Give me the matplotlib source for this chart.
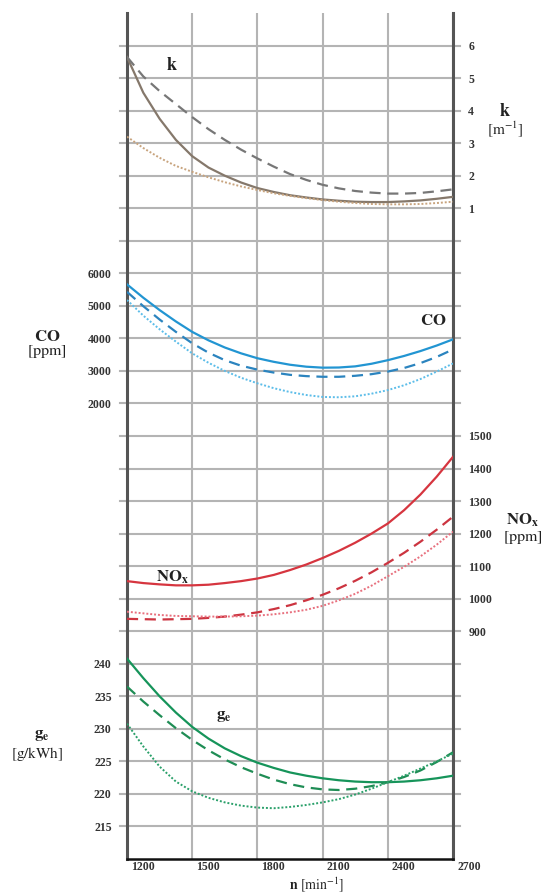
import matplotlib
matplotlib.use('Agg')
from matplotlib import pyplot
from matplotlib.transforms import ScaledTranslation

# engine speed [min^-1]
rpm = [1200, 1275, 1350, 1425, 1500, 1575, 1650, 1725, 1800, 1875, 1950,
       2025, 2100, 2175, 2250, 2325, 2400, 2475, 2550, 2625, 2700]

# smokiness k [m^-1]
k_solid = [5.65, 4.55, 3.75, 3.10, 2.60, 2.25, 2.00, 1.79, 1.62, 1.50, 1.40,
           1.33, 1.27, 1.23, 1.20, 1.19, 1.19, 1.21, 1.24, 1.29, 1.35]
k_dash = [5.65, 5.05, 4.60, 4.20, 3.80, 3.43, 3.10, 2.80, 2.53, 2.28, 2.05,
          1.87, 1.72, 1.61, 1.53, 1.48, 1.45, 1.45, 1.47, 1.52, 1.58]
k_dot = [3.20, 2.85, 2.55, 2.30, 2.12, 1.95, 1.80, 1.67, 1.56, 1.46, 1.38,
         1.31, 1.25, 1.20, 1.16, 1.13, 1.12, 1.12, 1.13, 1.16, 1.20]

# CO [ppm]
co_solid = [5660, 5250, 4870, 4520, 4200, 3940, 3720, 3540, 3390, 3280, 3190,
            3130, 3100, 3105, 3140, 3220, 3330, 3460, 3610, 3780, 3970]
co_dash = [5430, 4990, 4580, 4200, 3850, 3560, 3330, 3160, 3040, 2950, 2880,
           2840, 2820, 2820, 2850, 2900, 2980, 3090, 3240, 3430, 3660]
co_dot = [5180, 4700, 4280, 3900, 3540, 3250, 3000, 2790, 2620, 2470, 2350,
          2260, 2200, 2190, 2220, 2300, 2410, 2560, 2750, 2980, 3230]

# NOx [ppm]
nox_solid = [1054, 1048, 1044, 1041, 1041, 1043, 1048, 1054, 1062, 1073, 1088,
             1105, 1125, 1147, 1172, 1200, 1231, 1272, 1320, 1375, 1436]
nox_dash = [938, 937, 936, 937, 938, 941, 945, 951, 958, 968, 980,
            995, 1012, 1032, 1055, 1081, 1110, 1141, 1175, 1212, 1252]
nox_dot = [960, 955, 950, 947, 946, 945, 945, 946, 948, 952, 958,
           966, 978, 995, 1015, 1040, 1069, 1098, 1130, 1166, 1206]

# specific fuel consumption ge [g/kWh]
ge_solid = [240.8, 237.8, 235.0, 232.5, 230.3, 228.5, 227.0, 225.8, 224.8, 224.0, 223.3,
            222.8, 222.4, 222.1, 221.9, 221.8, 221.8, 221.9, 222.1, 222.4, 222.8]
ge_dash = [236.5, 234.2, 232.1, 230.1, 228.3, 226.7, 225.3, 224.1, 223.1, 222.2, 221.5,
           221.0, 220.7, 220.6, 220.8, 221.2, 221.8, 222.6, 223.6, 224.9, 226.4]
ge_dot = [230.8, 227.3, 224.2, 221.9, 220.4, 219.4, 218.7, 218.2, 217.9, 217.8, 218.0,
          218.3, 218.7, 219.2, 219.9, 220.8, 221.8, 222.8, 223.9, 225.0, 226.2]

x_ticks = [1200, 1500, 1800, 2100, 2400, 2700]
k_ticks = [1, 2, 3, 4, 5, 6]
co_ticks = [2000, 3000, 4000, 5000, 6000]
nox_ticks = [900, 1000, 1100, 1200, 1300, 1400, 1500]
ge_ticks = [215, 220, 225, 230, 235, 240]

W, H = 549, 894
RECT = [127 / W, 35 / H, 326 / W, 846 / H]

pyplot.rcParams['font.family'] = 'Liberation Serif'
pyplot.rcParams['mathtext.fontset'] = 'stix'


def _overlay(fig, ylim, ticks, side):
    ax = fig.add_axes(RECT)
    ax.patch.set_visible(False)
    for s in ax.spines.values():
        s.set_visible(False)
    ax.set_xlim(1200, 2700)
    ax.set_xticks([])
    ax.set_ylim(*ylim)
    ax.set_yticks(ticks)
    ax.set_yticklabels([str(t) for t in ticks], fontsize=8.5, fontweight='bold', color='#333333')
    if side == 'right':
        ax.yaxis.tick_right()
        ax.tick_params(axis='y', right=True, left=False, length=0, pad=11)
    else:
        ax.tick_params(axis='y', left=True, right=False, length=0, pad=11)
    return ax


def _curves(ax, solid, dash, dot, c_solid, c_dash, c_dot):
    ax.plot(rpm, solid, color=c_solid, lw=1.6)
    ax.plot(rpm, dash, color=c_dash, lw=1.6, linestyle=(0, (5, 3)))
    ax.plot(rpm, dot, color=c_dot, lw=1.4, linestyle=(0, (1, 1)))


def _ftext(x, y, s, **kw):
    pyplot.figtext(x / W, 1 - y / H, s, ha='center', va='center', color='#222222', **kw)


fig = pyplot.figure(figsize=(W / 100, H / 100), dpi=100)

# base grid: 26 rows of equal height
base = fig.add_axes(RECT)
base.set_xlim(1200, 2700)
base.set_ylim(0, 26)
base.set_yticks([])
base.set_xticks(x_ticks)
base.set_xticklabels([str(t) for t in x_ticks], fontsize=8.5, fontweight='bold', color='#333333')
base.tick_params(axis='x', length=0, pad=1.5)
offset = ScaledTranslation(16 / 100, 0, fig.dpi_scale_trans)
for label in base.xaxis.get_majorticklabels():
    label.set_transform(label.get_transform() + offset)
base.grid(axis='x', color='#b4b4b4', lw=1.5)
for i in range(1, 26):
    base.axhline(i, xmin=-0.022, xmax=1.022, color='#b4b4b4', lw=1.5, clip_on=False, zorder=1)
base.spines['top'].set_visible(False)
base.spines['left'].set_color('#555555')
base.spines['right'].set_color('#555555')
base.spines['left'].set_linewidth(2.2)
base.spines['right'].set_linewidth(2.2)
base.spines['bottom'].set_color('#111111')
base.spines['bottom'].set_linewidth(1.8)

# each quantity has its own scale on the common 26-row grid
ax_k = _overlay(fig, (-19, 7), k_ticks, 'right')
_curves(ax_k, k_solid, k_dash, k_dot, '#85786b', '#777777', '#c8a47e')

ax_co = _overlay(fig, (-12000, 14000), co_ticks, 'left')
_curves(ax_co, co_solid, co_dash, co_dot, '#2295d2', '#2b84bf', '#5cbde9')

ax_nox = _overlay(fig, (200, 2800), nox_ticks, 'right')
_curves(ax_nox, nox_solid, nox_dash, nox_dot, '#d6353f', '#cc3440', '#e8707e')

ax_ge = _overlay(fig, (210, 340), ge_ticks, 'left')
_curves(ax_ge, ge_solid, ge_dash, ge_dot, '#16945a', '#1f8d55', '#2aa06a')

# labels
_ftext(172, 65, r'$\mathbf{k}$', fontsize=13)
_ftext(505, 111, r'$\mathbf{k}$', fontsize=13)
_ftext(505, 129, r'$[\mathrm{m}^{-1}]$', fontsize=11)

_ftext(47, 337, r'$\mathbf{CO}$', fontsize=12)
_ftext(47, 352, r'$[\mathrm{ppm}]$', fontsize=11.5)
_ftext(433, 321, r'$\mathbf{CO}$', fontsize=12)

_ftext(172, 577, r'$\mathbf{NO_x}$', fontsize=12)
_ftext(522, 520, r'$\mathbf{NO_x}$', fontsize=12)
_ftext(523, 538, r'$[\mathrm{ppm}]$', fontsize=11.5)

_ftext(224, 716, r'$\mathbf{g_e}$', fontsize=12)
_ftext(42, 735, r'$\mathbf{g_e}$', fontsize=12)
_ftext(37, 754, r'$[\mathrm{g/kWh}]$', fontsize=11)

_ftext(316, 885, r'$\mathbf{n}\ [\mathrm{min}^{-1}]$', fontsize=10)

fig.savefig('out.png', dpi=100)
